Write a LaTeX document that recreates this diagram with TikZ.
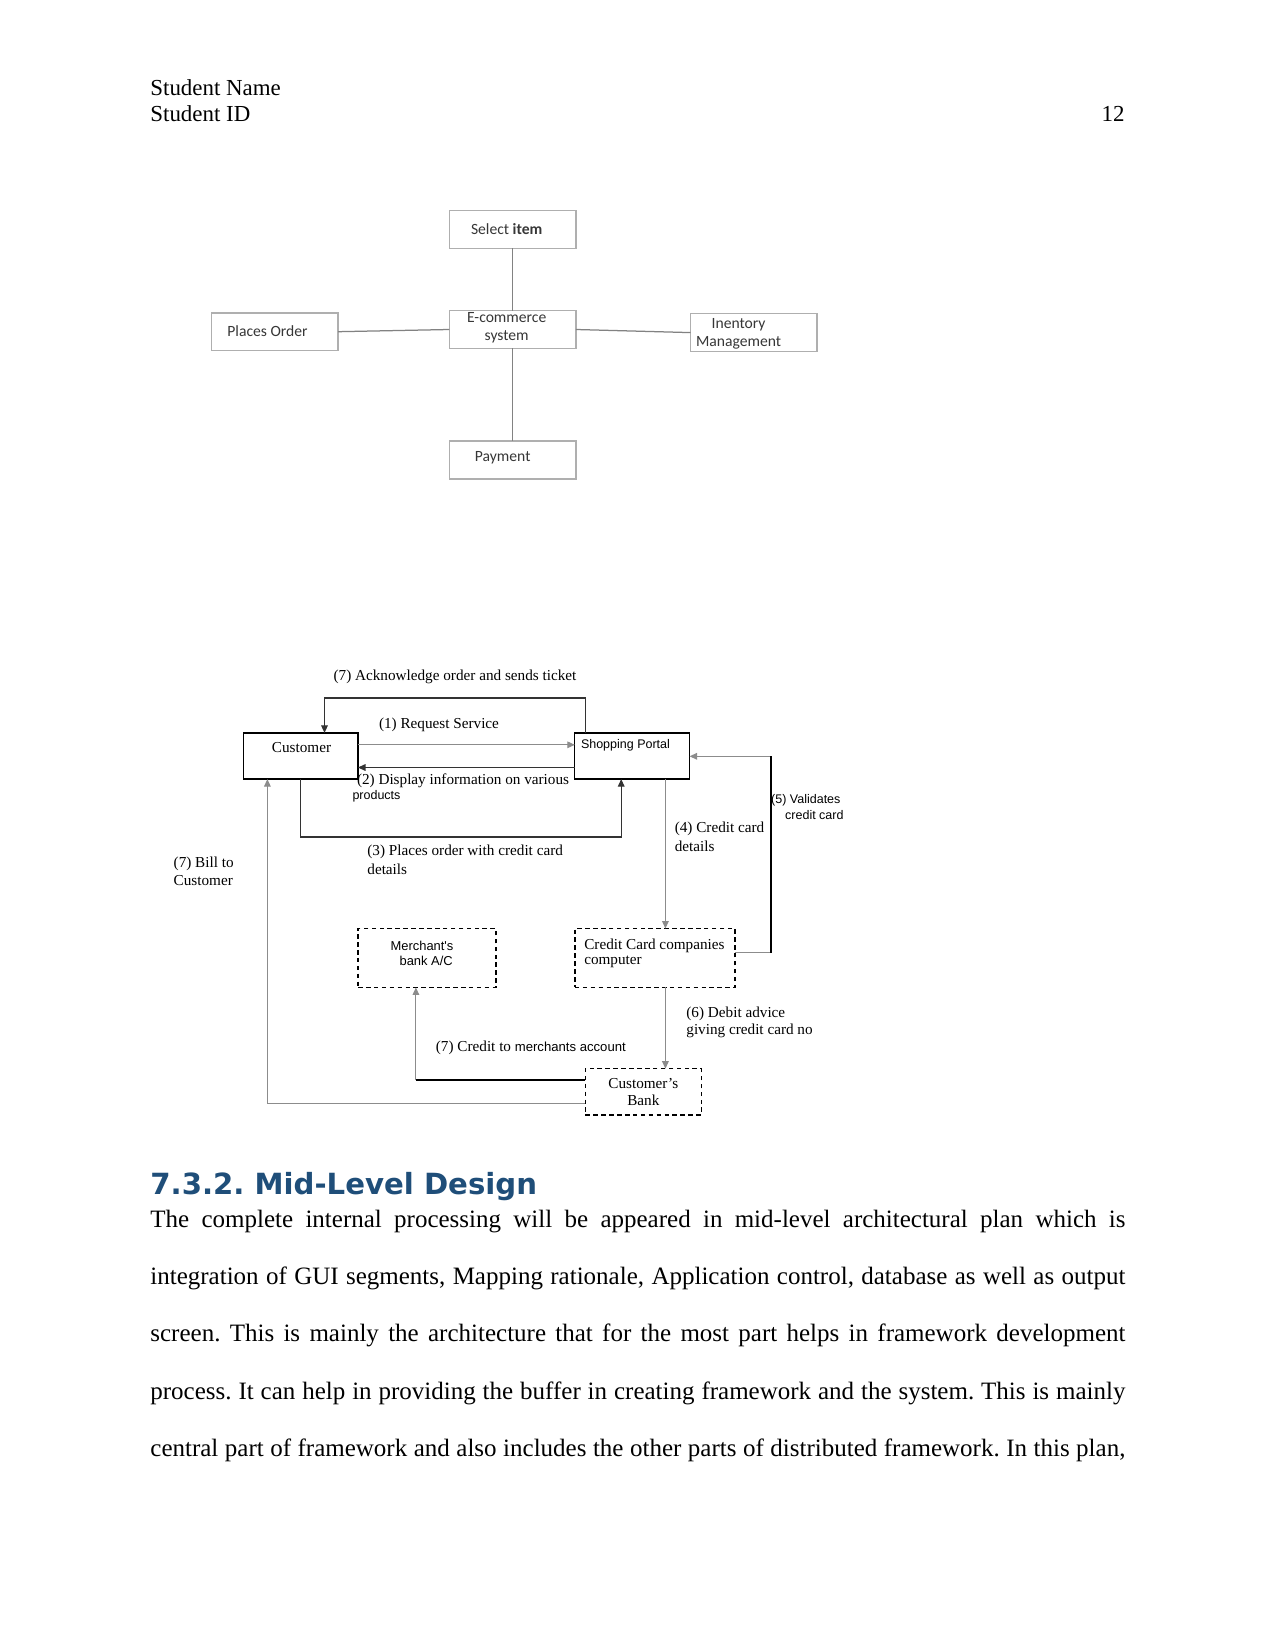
\documentclass[tikz,border=0pt]{standalone}
\usepackage{fontspec}
\setmainfont{Liberation Serif}
\newfontfamily\carl{Carlito}
\newfontfamily\arialf{Liberation Sans}
\newfontfamily\headfont{DejaVu Sans}
\usetikzlibrary{arrows.meta}
\frenchspacing
\definecolor{headblue}{RGB}{31,78,121}
\definecolor{tgray}{RGB}{175,175,175}
\definecolor{tline}{RGB}{130,130,130}
\definecolor{ttext}{RGB}{55,55,55}
\tikzset{
  tbox/.style={draw=tgray, line width=0.75pt, fill=white, inner sep=0pt, outer sep=0pt,
    minimum width=60.7pt, minimum height=18.2pt},
  ttxt/.style={inner sep=0pt, outer sep=0pt, align=center, text=ttext,
    font=\carl\fontsize{7.5}{8.7}\selectfont},
  tconn/.style={draw=tline, line width=0.6pt},
  sbox/.style={draw=black, line width=0.65pt, inner sep=0pt, outer sep=0pt},
  dbox/.style={draw=black, line width=0.6pt, dashed, dash pattern=on 2.2pt off 1.6pt, inner sep=0pt, outer sep=0pt},
  lbl/.style={inner sep=0pt, outer sep=0pt, font=\fontsize{7.3}{9.1}\selectfont},
  slbl/.style={inner sep=0pt, outer sep=0pt, font=\arialf\fontsize{6}{7.5}\selectfont},
  arr/.style={-{Triangle[length=3.6pt,width=3.2pt]}},
  dconn/.style={draw=black!80, line width=0.5pt},
  gconn/.style={draw=black!45, line width=0.45pt},
  hdr/.style={anchor=base west, inner sep=0pt, font=\fontsize{11}{13}\selectfont},
  bodyline/.style={anchor=base west, inner sep=0pt, font=\fontsize{12}{14}\selectfont}
}
\begin{document}
\begin{tikzpicture}[x=0.48pt,y=-0.48pt]
\useasboundingbox (0,0) rectangle (1275,1651);
\fill[white] (0,0) rectangle (1275,1651);

% header
\node[hdr] (sname) at (150,96) {Student Name};
\node[hdr] (sid) at (150,122) {Student ID};
\node[hdr, anchor=base east] (pnum) at (1125,122) {12};

% ---------- top diagram ----------
\node[tbox] (sel) at (512.7,229.5) {};
\node[ttxt] (selt) at (506.7,229.5) {Select \textbf{item}};
\node[tbox] (ecom) at (512.7,329.5) {};
\node[ttxt] (ecomt) at (506.7,328) {E-commerce\\system};
\node[tbox] (place) at (274.8,331.7) {};
\node[ttxt] (placet) at (267.5,331.2) {Places Order};
\node[tbox] (inv) at (753.8,332.6) {};
\node[ttxt] (invt) at (738.6,334) {Inentory\\Management};
\node[tbox] (pay) at (512.7,460) {};
\node[ttxt] (payt) at (502.7,458) {Payment};
\draw[tconn] (sel) -- (ecom);
\draw[tconn] (place.east) -- (ecom.west);
\draw[tconn] (ecom.east) -- (inv.west);
\draw[tconn] (ecom) -- (pay);

% ---------- bottom diagram ----------
\node[sbox, minimum width=55.1pt, minimum height=22.2pt] (cust) at (300.6,756) {};
\node[lbl] (custt) at (301.5,748) {Customer};
\node[sbox, minimum width=55.1pt, minimum height=22.2pt] (sp) at (632.2,756) {};
\node[slbl, anchor=west] (spt) at (581,745) {Shopping Portal};

\node[dbox, minimum width=66.2pt, minimum height=28.3pt] (merch) at (427,958) {};
\node[slbl, align=center, font=\arialf\fontsize{6.2}{7.6}\selectfont] (mercht) at (422,953.3) {Merchant's\\ \hspace{4pt}bank A/C};
\node[dbox, minimum width=76.8pt, minimum height=28.3pt] (cc) at (654.9,958) {};
\node[lbl, anchor=west, align=left, font=\fontsize{7.3}{7.6}\selectfont] (cct) at (584.3,953.3) {Credit Card companies\\computer};
\node[dbox, minimum width=55.6pt, minimum height=22.2pt] (bank) at (643.3,1091.8) {};
\node[lbl, align=center, font=\fontsize{7.3}{8.6}\selectfont] (bankt) at (643.3,1092) {Customer's\\Bank};

% bend points
\coordinate (ackL) at (324.5,698);
\coordinate (ackR) at (585.5,698);
\coordinate (y1) at (0,744.8);
\coordinate (y2) at (0,767.5);
\coordinate (c3a) at (300.5,837);
\coordinate (c3b) at (621.2,837);
\coordinate (x4) at (665.4,0);
\coordinate (c5t) at (770.7,756.3);
\coordinate (c5b) at (770.7,952.8);
\coordinate (c7) at (415.9,1080.2);
\coordinate (cb) at (267.4,1103.3);

% (7) acknowledge
\draw[dconn, arr] (ackR |- sp.north) -- (ackR) -- (ackL) -- (ackL |- cust.north);
\node[lbl] (ackt) at (455,677) {(7) Acknowledge order and sends ticket};
% (1) request
\draw[gconn, arr] (cust.east |- y1) -- (sp.west |- y1);
\node[lbl] (t1) at (439,724.5) {(1) Request Service};
% (2) display
\draw[dconn, arr] (sp.west |- y2) -- (cust.east |- y2);
\node[lbl, anchor=west] (t2a) at (357,780.5) {(2) Display information on various};
\node[slbl, anchor=west] (t2b) at (352.5,796.5) {products};
% (3) places order
\draw[dconn, arr] (c3a |- cust.south) -- (c3a) -- (c3b) -- (c3b |- sp.south);
\node[lbl, anchor=west, align=left] (t3) at (367.4,860.2) {(3) Places order with credit card\\details};
% (4) credit card details
\draw[gconn, arr] (x4 |- sp.south) -- (x4 |- cc.north);
\node[lbl, anchor=west, align=left] (t4) at (674.8,837) {(4) Credit card\\details};
% (5) validates
\draw[gconn, line width=0.5pt, arr] (cc.east |- c5b) -- (c5b) -- (c5t) -- (sp.east |- c5t);
\draw[black, line width=1.1pt] (c5b) -- (c5t);
\node[slbl, anchor=west] (t5a) at (771.2,800.5) {(5) Validates};
\node[slbl, anchor=west] (t5b) at (785.2,815) {credit card};
% (6) debit advice
\draw[gconn, arr] (x4 |- cc.south) -- (x4 |- bank.north);
\node[lbl, anchor=west, align=left, font=\fontsize{7.3}{8.1}\selectfont] (t6) at (686.4,1022.3) {(6) Debit advice\\giving credit card no};
% (7) credit to merchants
\draw[gconn, arr] (c7) -- (c7 |- merch.south);
\draw[black, line width=1pt] (bank.west |- c7) -- (c7);
\node[lbl, anchor=west] (t7c) at (435.9,1047.5) {(7) Credit to {\arialf\fontsize{6.3}{7.5}\selectfont merchants account}};
% (7) bill to customer
\draw[gconn, arr] (bank.west |- cb) -- (cb) -- (cb |- cust.south);
\node[lbl, anchor=west, align=left, font=\fontsize{7.3}{8.6}\selectfont] (t7b) at (173.7,871) {(7) Bill to\\Customer};

% ---------- heading and text ----------
\node[anchor=base west, inner sep=0pt, text=headblue, font=\headfont\bfseries\fontsize{14}{16}\selectfont] (head) at (150,1194) {7.3.2. Mid-Level Design};
\node[bodyline] (l1) at (150,1227) {\makebox[468pt][s]{The complete internal processing will be appeared in mid-level architectural plan which is}};
\node[bodyline] (l2) at (150,1284.4) {\makebox[468pt][s]{integration of GUI segments, Mapping rationale, Application control, database as well as output}};
\node[bodyline] (l3) at (150,1341.8) {\makebox[468pt][s]{screen. This is mainly the architecture that for the most part helps in framework development}};
\node[bodyline] (l4) at (150,1399.2) {\makebox[468pt][s]{process. It can help in providing the buffer in creating framework and the system. This is mainly}};
\node[bodyline] (l5) at (150,1456.6) {\makebox[468pt][s]{central part of framework and also includes the other parts of distributed framework. In this plan,}};
\end{tikzpicture}
\end{document}
